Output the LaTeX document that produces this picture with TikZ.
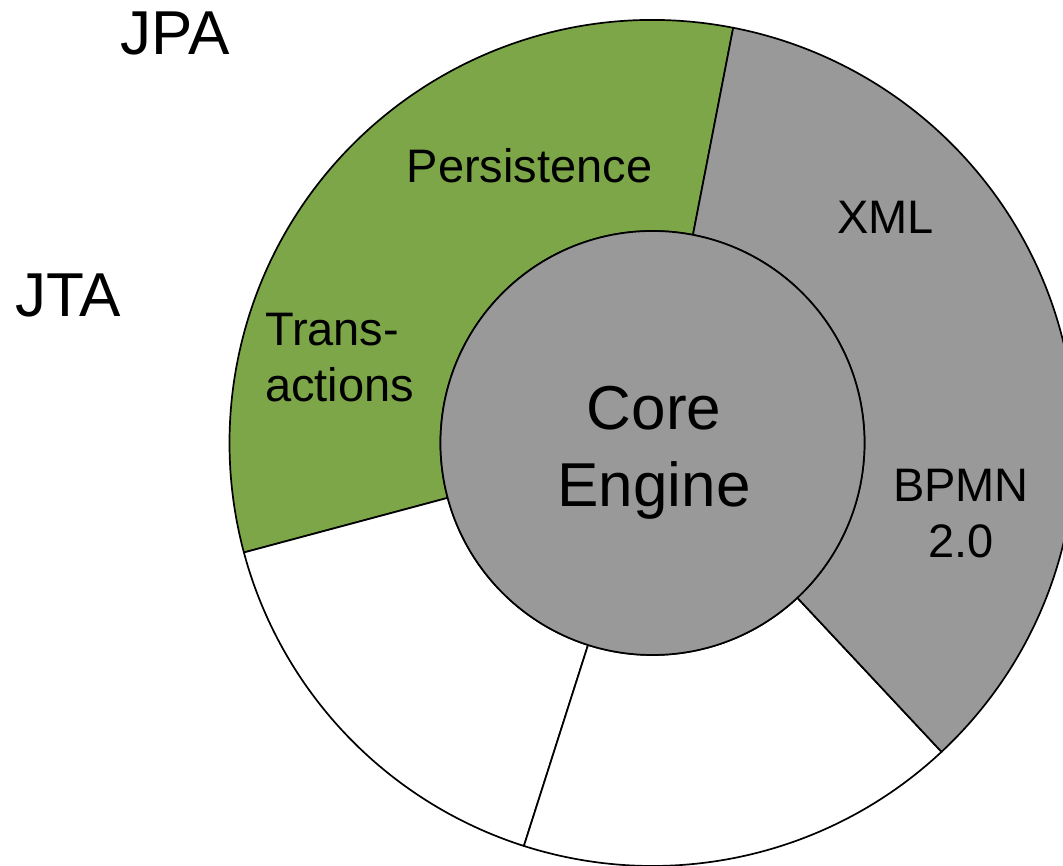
\documentclass[tikz,border=0pt]{standalone}
\usepackage{fontspec}
\setmainfont{Liberation Sans}
\definecolor{persistgreen}{RGB}{125,166,72}
\definecolor{enginegray}{RGB}{153,153,153}
\begin{document}
\begin{tikzpicture}[x=1pt,y=1pt,
    ring/.style={draw=black,line width=1.7pt,line join=round},
    small/.style={font=\fontsize{47}{56}\selectfont,anchor=base},
    large/.style={font=\fontsize{62}{77}\selectfont,anchor=base}]
    \useasboundingbox (-652.5,-423) rectangle (410.5,443);
    \clip (-652.5,-423) rectangle (410.5,443);
    \coordinate (Origin) at (0,0);
    \draw [ring,fill=persistgreen] (79:212) -- (79:423) arc[start angle=79,end angle=195,radius=423] -- (195:212) arc[start angle=195,end angle=79,radius=212] -- cycle;% Persistence, Transactions
    \draw [ring,fill=white] (195:212) -- (195:423) arc[start angle=195,end angle=252.3,radius=423] -- (252.3:212) arc[start angle=252.3,end angle=195,radius=212] -- cycle;% empty
    \draw [ring,fill=white] (252.3:212) -- (252.3:423) arc[start angle=252.3,end angle=313.1,radius=423] -- (313.1:212) arc[start angle=313.1,end angle=252.3,radius=212] -- cycle;% empty
    \draw [ring,fill=enginegray] (-46.9:212) -- (-46.9:423) arc[start angle=-46.9,end angle=79,radius=423] -- (79:212) arc[start angle=79,end angle=-46.9,radius=212] -- cycle;% XML, BPMN
    \draw [ring,fill=enginegray] (Origin) circle[radius=212];% Core circle
    \node [large,align=center] (core) at (1.5,-64) {Core\\Engine};
    \node [large] (jpa) at (-477.5,388) {JPA};
    \node [large] (jta) at (-584,126) {JTA};
    \node [small] (persistence) at (-123,260) {Persistence};
    \node [small,align=left,anchor=base west] (transactions) at (-391,41) {Trans-\\actions};
    \node [small] (xml) at (233,209) {XML};
    \node [small,align=center] (bpmn) at (308.5,-115) {BPMN\\2.0};
\end{tikzpicture}
\end{document}
